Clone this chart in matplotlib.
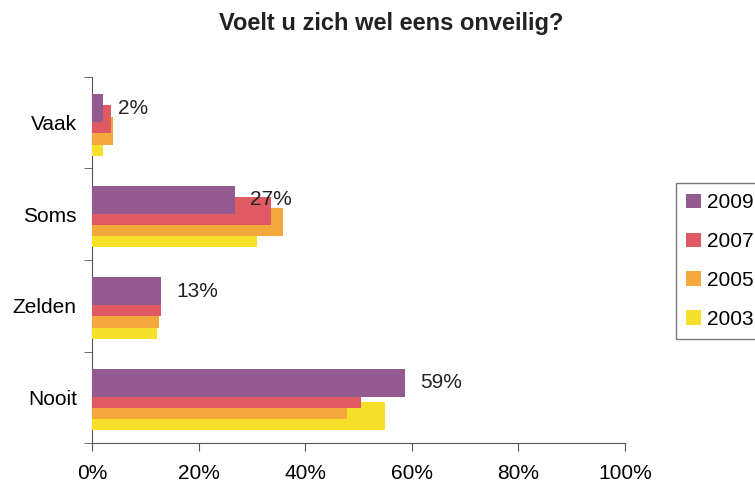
import numpy as np
import matplotlib
matplotlib.use("Agg")
import matplotlib.pyplot as plt
from matplotlib.ticker import FixedLocator, PercentFormatter

plt.rcParams['font.family'] = ['Liberation Sans', 'DejaVu Sans']

# data (percentages)
categories = ['Vaak', 'Soms', 'Zelden', 'Nooit']
years = ['2009', '2007', '2005', '2003']
values_2009 = [2.0, 26.8, 12.9, 58.7]
values_2007 = [3.6, 33.6, 13.0, 50.5]
values_2005 = [3.9, 35.8, 12.6, 47.8]
values_2003 = [2.0, 31.0, 12.2, 55.0]
labels_2009 = ['2%', '27%', '13%', '59%']

series = [values_2009, values_2007, values_2005, values_2003]
colors = ['#935A8F', '#E05A64', '#F4A73B', '#F6E029']

fig = plt.figure(figsize=(7.55, 4.83), dpi=100)
ax = fig.add_axes([0.1219, 0.0828, 0.7059, 0.7578])

y = np.arange(len(categories))
bar_h = 0.305
step = 0.123
start = -0.16

handles = []
for i, (vals, col, yr) in enumerate(zip(series, colors, years)):
    h = ax.barh(y + start + i * step, vals, height=bar_h, color=col,
                label=yr, zorder=10 - i)
    handles.append(h)

# value labels for the 2009 series only
for yi, v, lab in zip(y, values_2009, labels_2009):
    ax.text(v + 2.9, yi + start, lab, va='center', ha='left',
            fontsize=15, color='#222222', zorder=20)

ax.set_xlim(0, 100)
ax.set_ylim(3.5, -0.5)
ax.set_xticks(np.arange(0, 101, 20))
ax.xaxis.set_major_formatter(PercentFormatter(decimals=0))
ax.set_yticks(y)
ax.set_yticklabels(categories)
ax.yaxis.set_minor_locator(FixedLocator(np.arange(-0.5, 4, 1)))
ax.tick_params(axis='y', which='major', length=0, pad=11, labelsize=15)
ax.tick_params(axis='y', which='minor', length=6, color='#555555')
ax.tick_params(axis='x', length=6, color='#555555', pad=9, labelsize=15)

for side in ['top', 'right']:
    ax.spines[side].set_visible(False)
for side in ['left', 'bottom']:
    ax.spines[side].set_color('#555555')

fig.suptitle('Voelt u zich wel eens onveilig?', x=0.518, y=0.975,
             fontsize=17, fontweight='bold', color='#222222')

leg = fig.legend(handles=handles, labels=years, loc='upper left',
                 bbox_to_anchor=(0.895, 0.621), borderaxespad=0,
                 frameon=True, fancybox=False,
                 fontsize=15, handlelength=0.7, handleheight=0.7,
                 handletextpad=0.3, labelspacing=0.95, borderpad=0.5)
leg.get_frame().set_edgecolor('#555555')
leg.get_frame().set_linewidth(1.0)

fig.savefig('out.png', dpi=100)
